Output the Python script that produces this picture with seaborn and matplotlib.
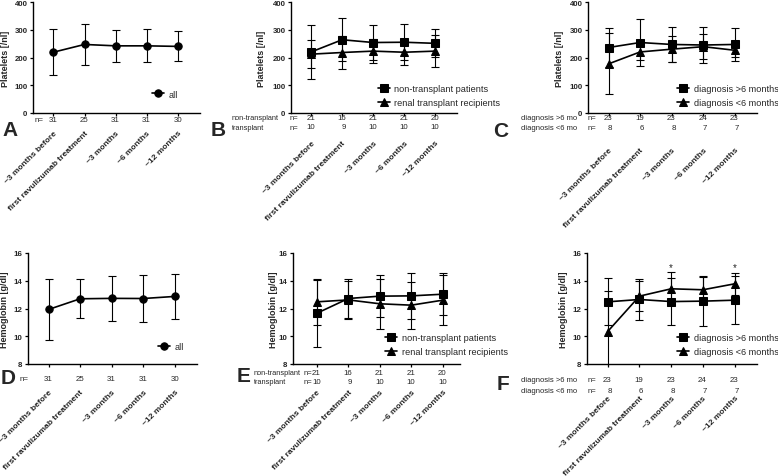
import matplotlib
matplotlib.use("Agg")
import matplotlib.pyplot as plt
import matplotlib.transforms as mtransforms
import seaborn as sns

# -------------------------------
# data (mean and SD)
# -------------------------------
timepoints = ["~3 months before", "first ravulizumab treatment",
              "~3 months", "~6 months", "~12 months"]

n_all = [31, 25, 31, 31, 30]
n_nontx = [21, 16, 21, 21, 20]
n_tx = [10, 9, 10, 10, 10]
n_gt6 = [23, 19, 23, 24, 23]
n_lt6 = [8, 6, 8, 7, 7]

plt_all_mean = [219, 247, 242, 242, 240]
plt_all_sd = [83, 75, 58, 60, 54]
plt_nontx_mean = [220, 264, 254, 255, 251]
plt_nontx_sd = [96, 78, 62, 65, 50]
plt_tx_mean = [212, 218, 223, 219, 223]
plt_tx_sd = [50, 61, 43, 46, 59]
plt_gt6_mean = [236, 254, 247, 245, 247]
plt_gt6_sd = [70, 83, 63, 65, 58]
plt_lt6_mean = [177, 220, 230, 239, 226]
plt_lt6_sd = [110, 28, 47, 46, 25]

hb_all_mean = [11.93, 12.70, 12.73, 12.72, 12.87]
hb_all_sd = [2.2, 1.42, 1.6, 1.68, 1.62]
hb_nontx_mean = [11.66, 12.72, 12.89, 12.91, 13.03]
hb_nontx_sd = [2.4, 1.44, 1.53, 1.66, 1.5]
hb_tx_mean = [12.48, 12.62, 12.34, 12.24, 12.6]
hb_tx_sd = [1.68, 1.35, 1.8, 1.7, 1.8]
hb_gt6_mean = [12.48, 12.65, 12.5, 12.53, 12.6]
hb_gt6_sd = [1.7, 1.5, 1.7, 1.8, 1.72]
hb_lt6_mean = [10.34, 12.89, 13.42, 13.35, 13.78]
hb_lt6_sd = [2.9, 1.1, 1.2, 0.95, 0.78]
hb_sig_idx = [2, 4]

W, H = 778, 477

sns.set_theme(style="ticks")
plt.rcParams["font.family"] = ["Liberation Sans", "DejaVu Sans"]

fig = plt.figure(figsize=(W / 100, H / 100), dpi=100)
fig.patch.set_facecolor("white")


def px_rect(left, top, right, bottom):
    return [left / W, 1 - bottom / H, (right - left) / W, (bottom - top) / H]


def ftext(x, y, s, **kw):
    fig.text(x / W, 1 - y / H, s, va="center", **kw)


def panel(rect, series, ylim, yticks, ylabel, ylab_dx, lab_off, leg_xy,
          xlim=(-0.65, 4.7)):
    ax = fig.add_axes(px_rect(*rect))
    xs = list(range(len(timepoints)))
    for mean, sd, marker, label in series:
        ax.errorbar(xs, mean, yerr=sd, fmt="none", ecolor="black",
                    elinewidth=0.8, capsize=3, capthick=0.8, zorder=2)
        sns.lineplot(x=xs, y=mean, ax=ax, color="black", marker=marker,
                     markersize=5.3, markeredgecolor="black", linewidth=1.2,
                     label=label, errorbar=None, zorder=3)
    ax.set_xlim(*xlim)
    ax.set_ylim(*ylim)
    ax.set_yticks(yticks)
    ax.set_yticklabels([str(t) for t in yticks], fontsize=5.7, fontweight="bold")
    ax.set_xticks(xs)
    ax.set_xticklabels(timepoints, rotation=45, ha="right", rotation_mode="anchor",
                       fontsize=6, fontweight="bold")
    ax.tick_params(axis="both", length=2.5, width=0.9, color="black")
    ax.tick_params(axis="y", pad=1.5)
    ax.tick_params(axis="x", pad=(lab_off - 3.5) * 0.72)
    for side in ["left", "bottom"]:
        ax.spines[side].set_linewidth(1.0)
        ax.spines[side].set_color("black")
    sns.despine(ax=ax)
    ax.set_ylabel(ylabel, fontsize=6.5, fontweight="bold", va="center")
    ax.yaxis.set_label_coords(-ylab_dx / (rect[2] - rect[0]), 0.5)
    ax.set_xlabel("")
    ax.legend(loc="center left", bbox_to_anchor=(leg_xy[0] / W, 1 - leg_xy[1] / H),
              bbox_transform=fig.transFigure, frameon=False, fontsize=6.6,
              handlelength=1.3, handletextpad=0.5, labelspacing=0.6,
              borderpad=0, borderaxespad=0)
    return ax


def n_row(ax, counts, dy, dx=4):
    tr = mtransforms.offset_copy(ax.get_xaxis_transform(), fig=fig,
                                 x=dx, y=-dy, units="dots")
    for i, c in enumerate(counts):
        ax.text(i, 0, str(c), transform=tr, ha="right", va="center", fontsize=5.7)


plt_ticks = [0, 100, 200, 300, 400]
hb_ticks = [8, 10, 12, 14, 16]

# -------------------------------
# top row: platelets
# -------------------------------
axA = panel((33, 3, 200, 114), [(plt_all_mean, plt_all_sd, "o", "all")],
            (0, 400), plt_ticks, "Platelets [/nl]", 27, 16, (152, 95))
n_row(axA, n_all, 7)
ftext(35, 121, "n=", fontsize=5.7)
ftext(2, 130, "A", fontsize=15, fontweight="bold")

axB = panel((291, 3, 457, 114),
            [(plt_nontx_mean, plt_nontx_sd, "s", "non-transplant patients"),
             (plt_tx_mean, plt_tx_sd, "^", "renal transplant recipients")],
            (0, 400), plt_ticks, "Platelets [/nl]", 29, 26, (378, 96.5))
n_row(axB, n_nontx, 5)
n_row(axB, n_tx, 14)
ftext(232, 119, "non-transplant", fontsize=5.3)
ftext(290, 119, "n=", fontsize=5.5)
ftext(232, 128, "transplant", fontsize=5.3)
ftext(290, 128, "n=", fontsize=5.5)
ftext(211, 130, "B", fontsize=15, fontweight="bold")

axC = panel((588, 3, 757, 114),
            [(plt_gt6_mean, plt_gt6_sd, "s", "diagnosis >6 months"),
             (plt_lt6_mean, plt_lt6_sd, "^", "diagnosis <6 months")],
            (0, 400), plt_ticks, "Platelets [/nl]", 29, 33, (677, 96.5))
n_row(axC, n_gt6, 5)
n_row(axC, n_lt6, 15)
ftext(521, 119, "diagnosis >6 mo", fontsize=5.5)
ftext(588, 119, "n=", fontsize=5.5)
ftext(521, 129, "diagnosis <6 mo", fontsize=5.5)
ftext(588, 129, "n=", fontsize=5.5)
ftext(493, 132, "C", fontsize=15, fontweight="bold")

# -------------------------------
# bottom row: hemoglobin
# -------------------------------
axD = panel((28, 254, 197, 365), [(hb_all_mean, hb_all_sd, "o", "all")],
            (8, 16), hb_ticks, "Hemoglobin [g/dl]", 23, 24, (158, 348))
n_row(axD, n_all, 15)
ftext(20, 380, "n=", fontsize=5.7)
ftext(1, 379, "D", fontsize=15, fontweight="bold")

axE = panel((293, 254, 460, 365),
            [(hb_nontx_mean, hb_nontx_sd, "s", "non-transplant patients"),
             (hb_tx_mean, hb_tx_sd, "^", "renal transplant recipients")],
            (8, 16), hb_ticks, "Hemoglobin [g/dl]", 20, 24, (385, 345.5),
            xlim=(-0.76, 4.55))
n_row(axE, n_nontx, 9)
n_row(axE, n_tx, 18)
ftext(254, 374, "non-transplant", fontsize=5.3)
ftext(304, 374, "n=", fontsize=5.5)
ftext(254, 383, "transplant", fontsize=5.3)
ftext(304, 383, "n=", fontsize=5.5)
ftext(237, 377, "E", fontsize=15, fontweight="bold")

axF = panel((587, 254, 757, 365),
            [(hb_gt6_mean, hb_gt6_sd, "s", "diagnosis >6 months"),
             (hb_lt6_mean, hb_lt6_sd, "^", "diagnosis <6 months")],
            (8, 16), hb_ticks, "Hemoglobin [g/dl]", 24, 30, (677, 345.5))
n_row(axF, n_gt6, 16)
n_row(axF, n_lt6, 27)
ftext(521, 381, "diagnosis >6 mo", fontsize=5.5)
ftext(588, 381, "n=", fontsize=5.5)
ftext(521, 392, "diagnosis <6 mo", fontsize=5.5)
ftext(588, 392, "n=", fontsize=5.5)
ftext(497, 385, "F", fontsize=15, fontweight="bold")
for i in hb_sig_idx:
    top = max(hb_gt6_mean[i] + hb_gt6_sd[i], hb_lt6_mean[i] + hb_lt6_sd[i])
    axF.text(i, top + 0.4, "*", ha="center", va="center", fontsize=7)

fig.savefig("out.png", dpi=100, facecolor="white")
